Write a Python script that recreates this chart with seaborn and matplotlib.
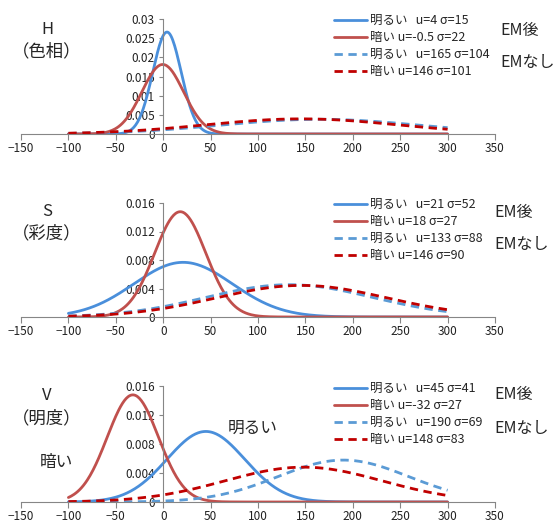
import numpy as np
import pandas as pd
import matplotlib
matplotlib.use('Agg')
import matplotlib.pyplot as plt
import seaborn as sns
from matplotlib.ticker import FuncFormatter

sns.set_theme(style='white')
plt.rcParams['font.family'] = ['Noto Sans CJK JP', 'DejaVu Sans']

W, H = 555, 522

# data: normal curves given by the (u, sigma) shown in each legend
X_START, X_END = -100, 300
series_names = ['明るい', '暗い', '明るい', '暗い']
name_gap = ['   ', ' ', '   ', ' ']

h_mu = [4, -0.5, 165, 146]
h_sigma = [15, 22, 104, 101]
s_mu = [21, 18, 133, 146]
s_sigma = [52, 27, 88, 90]
v_mu = [45, -32, 190, 148]
v_sigma = [41, 27, 69, 83]

h_yticks = [0, 0.005, 0.01, 0.015, 0.02, 0.025, 0.03]
sv_yticks = [0, 0.004, 0.008, 0.012, 0.016]
x_ticks = [-150, -100, -50, 0, 50, 100, 150, 200, 250, 300, 350]

panel_titles = [('H', '（色相）'), ('S', '（彩度）'), ('V', '（明度）')]

# styles
colors = ['#4a8fdb', '#c0504d', '#5b9bd5', '#c00000']
styles = ['-', '-', (0, (3, 2)), (0, (3, 2))]
AXIS_COLOR = '#868686'


def px_x(x):
    return x / W


def px_y(y):
    return 1 - y / H


def curve_frame(mu, sigma):
    x = np.arange(X_START, X_END + 1, 1.0)
    y = np.exp(-0.5 * ((x - mu) / sigma) ** 2) / (sigma * np.sqrt(2 * np.pi))
    return pd.DataFrame({'x': x, 'y': y})


fig = plt.figure(figsize=(W / 100, H / 100), dpi=100)

# (px of y=0, px of ymax, ymax, yticks, mus, sigmas, legend top px, EM label x, EM labels y)
panels = [
    (134, 19, 0.03, h_yticks, h_mu, h_sigma, 14, 500, (30, 62)),
    (317, 203, 0.016, sv_yticks, s_mu, s_sigma, 198, 494, (212, 245)),
    (502, 386, 0.016, sv_yticks, v_mu, v_sigma, 382, 494, (394, 428)),
]
title_pos = [(29, 51), (212, 233), (395, 418)]

for i, (y0, y1, ymax, yticks, mus, sigmas, leg_top, em_x, em_y) in enumerate(panels):
    ax = fig.add_axes([px_x(21), px_y(y0), (495 - 21) / W, (y0 - y1) / H])
    for k in range(4):
        df = curve_frame(mus[k], sigmas[k])
        label = f'{series_names[k]}{name_gap[k]}u={mus[k]:g} σ={sigmas[k]:g}'
        sns.lineplot(data=df, x='x', y='y', ax=ax, color=colors[k],
                     linestyle=styles[k], linewidth=2.0, label=label)
    ax.set_xlim(-150, 350)
    ax.set_ylim(0, ymax)
    ax.set_xticks(x_ticks)
    ax.set_yticks(yticks)
    ax.yaxis.set_major_formatter(FuncFormatter(lambda v, p: f'{v:g}'))
    ax.set_xlabel('')
    ax.set_ylabel('')
    for s in ['top', 'right']:
        ax.spines[s].set_visible(False)
    ax.spines['left'].set_position(('data', 0))
    ax.spines['left'].set_color(AXIS_COLOR)
    ax.spines['bottom'].set_color(AXIS_COLOR)
    ax.spines['left'].set_linewidth(0.8)
    ax.spines['bottom'].set_linewidth(0.8)
    ax.tick_params(axis='x', direction='out', length=4, width=0.8, color=AXIS_COLOR,
                   labelsize=8.5, pad=2, labelcolor='#222222', bottom=True)
    ax.tick_params(axis='y', direction='out', length=3, width=0.8, color=AXIS_COLOR,
                   labelsize=8.5, pad=3, labelcolor='#222222', left=True)
    ax.patch.set_alpha(0)

    # legend
    ax.legend(loc='upper left', frameon=False, fontsize=9,
              bbox_to_anchor=(px_x(334), px_y(leg_top)),
              bbox_transform=fig.transFigure,
              handlelength=2.6, handletextpad=0.3, labelspacing=0.33,
              borderaxespad=0, borderpad=0)
    fig.text(px_x(em_x), px_y(em_y[0]), 'EM後', fontsize=11.5, va='center', ha='left')
    fig.text(px_x(em_x), px_y(em_y[1]), 'EMなし', fontsize=11.5, va='center', ha='left')

    t1, t2 = panel_titles[i]
    fig.text(px_x(47), px_y(title_pos[i][0]), t1, fontsize=12, va='center', ha='center')
    fig.text(px_x(47), px_y(title_pos[i][1]), t2, fontsize=12.5, va='center', ha='center')

fig.text(px_x(253), px_y(428), '明るい', fontsize=12, va='center', ha='center')
fig.text(px_x(56), px_y(462), '暗い', fontsize=12, va='center', ha='center')

fig.savefig('out.png', dpi=100)
